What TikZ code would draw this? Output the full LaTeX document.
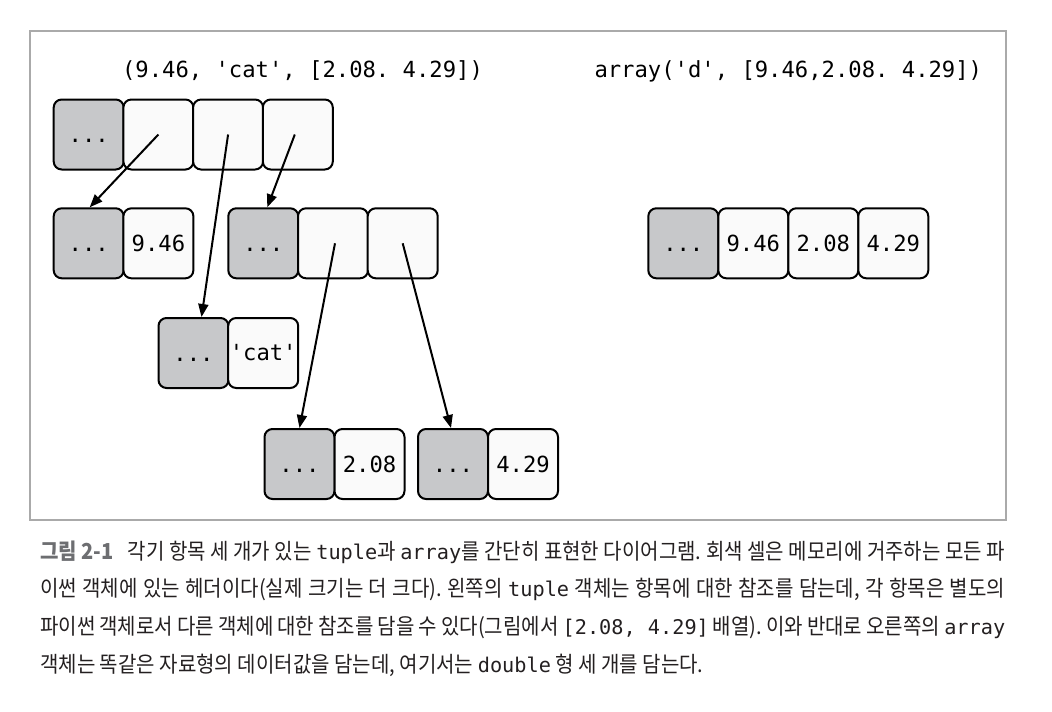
\documentclass[tikz,border=0pt]{standalone}
\usepackage{fontspec}
\setmainfont{Noto Sans CJK KR}[FakeStretch=0.91,WordSpace=1.0]
\setmonofont{DejaVu Sans Mono}[Scale=0.92]
\newfontfamily\cellfont{DejaVu Sans Mono}
\usetikzlibrary{arrows.meta,calc}
\definecolor{hdrgray}{RGB}{199,200,202}
\definecolor{cellwhite}{RGB}{250,250,250}
\definecolor{framegray}{RGB}{170,170,170}
\definecolor{captext}{RGB}{35,31,32}
\definecolor{caplabel}{RGB}{109,110,113}
\frenchspacing
\begin{document}
\begin{tikzpicture}[x=1pt,y=-1pt,
  cell/.style={draw=black, line width=2pt, rounded corners=8pt, minimum width=70pt, minimum height=70pt, inner sep=0pt, fill=cellwhite, font=\cellfont\fontsize{22.2}{24}\selectfont},
  hdr/.style={cell, fill=hdrgray},
  ref/.style={line width=2pt, -{Triangle[length=13pt,width=10pt]}},
  code/.style={font=\cellfont\fontsize{22.2}{24}\selectfont, anchor=base, inner sep=0pt},
  capline/.style={anchor=base west, inner sep=0pt, text=captext, font=\fontsize{22}{22}\selectfont},
]
\useasboundingbox (0,0) rectangle (1052,712);
\draw[framegray, line width=1.5pt] (30,31) rectangle (1006,520);

% titles
\node[code] (ttl) at (302.5,77) {(9.46, 'cat', [2.08. 4.29])};
\node[code] (atl) at (788.3,77) {array('d', [9.46,2.08. 4.29])};

% tuple
\node[hdr]  (t0) at (88.7,134.5) {\vphantom{0}...};
\node[cell] (t1) at (158.4,134.5) {};
\node[cell] (t2) at (228.1,134.5) {};
\node[cell] (t3) at (297.8,134.5) {};

% float 9.46
\node[hdr]  (a0) at (88.7,243.3) {\vphantom{0}...};
\node[cell] (a1) at (158.4,243.3) {9.46};

% list
\node[hdr]  (b0) at (263.3,243.3) {\vphantom{0}...};
\node[cell] (b1) at (333,243.3) {};
\node[cell] (b2) at (402.7,243.3) {};

% 'cat'
\node[hdr]  (c0) at (193.5,353) {\vphantom{0}...};
\node[cell] (c1) at (263.2,353) {'cat'};

% 2.08
\node[hdr]  (d0) at (299.5,464) {\vphantom{0}...};
\node[cell] (d1) at (369.5,464) {2.08};

% 4.29
\node[hdr]  (e0) at (453,464) {\vphantom{0}...};
\node[cell] (e1) at (523,464) {4.29};

% array
\node[hdr]  (r0) at (683.3,243.3) {\vphantom{0}...};
\node[cell] (r1) at (753.3,243.3) {9.46};
\node[cell] (r2) at (823.3,243.3) {2.08};
\node[cell] (r3) at (893.3,243.3) {4.29};

% references
\draw[ref] (t1.center) -- ($(a0.north)+(1,0)$);
\draw[ref] (t2.center) -- ($(c0.north)+(8,0)$);
\draw[ref] ($(t3.center)+(-3,0)$) -- ($(b0.north)+(4,0)$);
\draw[ref] ($(b1.center)+(2,0)$) -- (d0.north);
\draw[ref] (b2.center) -- ($(e0.north)+(-2,0)$);

% caption
\node[capline] (cap1) at (40,559) {\makebox[965pt][s]{{\color{caplabel}\bfseries 그림 2-1}\hspace{14pt}각기 항목 세 개가 있는 \texttt{tuple}과 \texttt{array}를 간단히 표현한 다이어그램. 회색 셀은 메모리에 거주하는 모든 파}};
\node[capline] (cap2) at (40,596.7) {\makebox[965pt][s]{이썬 객체에 있는 헤더이다(실제 크기는 더 크다). 왼쪽의 \texttt{tuple} 객체는 항목에 대한 참조를 담는데, 각 항목은 별도의}};
\node[capline] (cap3) at (40,634.3) {\makebox[965pt][s]{파이썬 객체로서 다른 객체에 대한 참조를 담을 수 있다(그림에서 \texttt{[2.08,\ 4.29]} 배열). 이와 반대로 오른쪽의 \texttt{array}}};
\node[capline] (cap4) at (40,672) {객체는 똑같은 자료형의 데이터값을 담는데, 여기서는 \texttt{double} 형 세 개를 담는다.};
\end{tikzpicture}
\end{document}
